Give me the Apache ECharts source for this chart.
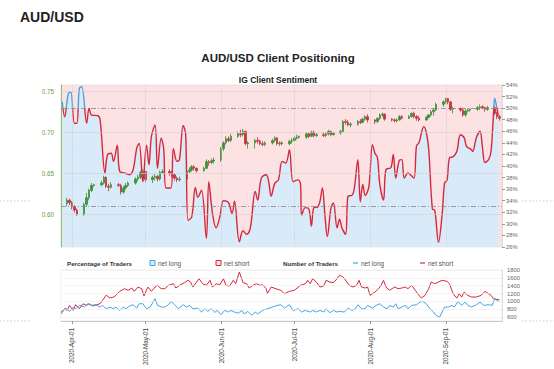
<!DOCTYPE html>
<html><head><meta charset="utf-8">
<script src="https://cdn.jsdelivr.net/npm/echarts@6/dist/echarts.min.js"></script>
<style>html,body{margin:0;padding:0;background:#fff}#c{width:554px;height:369px}</style>
</head><body><div id="c"></div>
<script>
const headerTitle = 'AUD/USD';
const chartTitle = 'AUD/USD Client Positioning';
const subTitle = 'IG Client Sentiment';
const monthTicks = ['2020-04-01','2020-05-01','2020-06-01','2020-07-01','2020-08-01','2020-09-01'];
const monthNames = ['Jan','Feb','Mar','Apr','May','Jun','Jul','Aug','Sep','Oct','Nov','Dec'];
const priceTicks = [0.60, 0.65, 0.70, 0.75];
const pctRefLines = [50, 33];
const countTicks = [600, 800, 1000, 1200, 1400, 1600, 1800];
const legendPct = ['Percentage of Traders', 'net long', 'net short'];
const legendNum = ['Number of Traders', 'net long', 'net short'];

// % of traders net long (IG client sentiment)
const sentimentNetLong = [
['2020-03-28',51.1],['2020-03-29',48.5],['2020-03-30 12:00',52.5],['2020-03-31 12:00',52.8],
['2020-04-02',47.4],['2020-04-03',47.4],['2020-04-04',53.4],['2020-04-05',53.7],['2020-04-07',47.4],
['2020-04-08',50.0],['2020-04-09',48.8],['2020-04-11 12:00',48.7],['2020-04-12 12:00',48.0],
['2020-04-14 12:00',38.8],['2020-04-15 12:00',41.9],['2020-04-17',42.2],['2020-04-18',40.8],
['2020-04-19 12:00',43.6],['2020-04-20 12:00',39.1],['2020-04-22 12:00',38.8],['2020-04-24 12:00',38.5],
['2020-04-26',39.3],['2020-04-27 12:00',43.1],['2020-04-28 12:00',43.9],['2020-04-30',37.3],
['2020-05-01 12:00',43.6],['2020-05-02 12:00',40.2],['2020-05-03 12:00',45.1],['2020-05-05',47.1],
['2020-05-06',39.6],['2020-05-07 12:00',44.8],['2020-05-08 12:00',43.1],['2020-05-09 12:00',36.2],
['2020-05-11 12:00',36.2],['2020-05-12 12:00',43.0],['2020-05-14',40.8],['2020-05-15',41.1],
['2020-05-16 12:00',47.0],['2020-05-17 12:00',45.6],['2020-05-18 12:00',30.6],['2020-05-20',31.2],
['2020-05-21 12:00',36.3],['2020-05-22 12:00',34.6],['2020-05-24',35.8],['2020-05-26',27.5],
['2020-05-27',37.3],['2020-05-28 12:00',31.8],['2020-05-30',29.3],['2020-05-31 12:00',31.2],
['2020-06-02',34.0],['2020-06-04',33.7],['2020-06-05 12:00',31.8],['2020-06-06 12:00',33.9],
['2020-06-08 12:00',26.9],['2020-06-10',28.8],['2020-06-11 12:00',28.2],['2020-06-13',29.3],
['2020-06-15',35.6],['2020-06-16',34.1],['2020-06-17 12:00',37.9],['2020-06-19 12:00',38.5],
['2020-06-20 12:00',37.3],['2020-06-21 12:00',34.8],['2020-06-23',37.0],['2020-06-24 12:00',37.6],
['2020-06-26',40.8],['2020-06-27 12:00',40.5],['2020-06-29',42.8],['2020-06-30 12:00',37.3],
['2020-07-02 12:00',37.6],['2020-07-03 12:00',37.0],['2020-07-04',31.5],['2020-07-05 12:00',32.8],
['2020-07-07',32.5],['2020-07-08',29.6],['2020-07-09',32.8],['2020-07-10 12:00',32.9],
['2020-07-11 12:00',33.9],['2020-07-12 12:00',36.2],['2020-07-13 12:00',31.6],['2020-07-14 12:00',27.8],
['2020-07-16',32.8],['2020-07-17',33.6],['2020-07-18 12:00',29.3],['2020-07-19 12:00',30.8],
['2020-07-20 12:00',29.3],['2020-07-22',28.2],['2020-07-23',34.8],['2020-07-24 12:00',34.9],
['2020-07-25 12:00',36.0],['2020-07-27',41.1],['2020-07-28',33.8],['2020-07-29',36.8],['2020-07-30',34.9],
['2020-07-31 12:00',36.4],['2020-08-02',43.7],['2020-08-03',42.2],['2020-08-04',41.5],['2020-08-05',36.8],
['2020-08-06 12:00',34.1],['2020-08-07 12:00',39.4],['2020-08-09 12:00',39.7],['2020-08-10 12:00',42.0],
['2020-08-11 12:00',37.9],['2020-08-13',41.0],['2020-08-14',41.1],['2020-08-15',37.9],
['2020-08-16 12:00',38.8],['2020-08-17 12:00',38.5],['2020-08-19',37.9],['2020-08-20',43.5],
['2020-08-21',44.0],['2020-08-23',46.8],['2020-08-24',45.8],['2020-08-25',42.9],['2020-08-26 12:00',32.6],
['2020-08-27 12:00',32.3],['2020-08-29',26.8],['2020-08-30 12:00',31.6],['2020-08-31 12:00',37.1],
['2020-09-01 12:00',37.5],['2020-09-02 12:00',41.4],['2020-09-04',41.6],['2020-09-05 12:00',42.5],
['2020-09-07',45.4],['2020-09-08 12:00',44.9],['2020-09-09 12:00',43.4],['2020-09-11 12:00',42.8],
['2020-09-12',42.5],['2020-09-13 12:00',44.9],['2020-09-15',46.0],['2020-09-16',43.2],['2020-09-17',40.6],
['2020-09-18 12:00',41.1],['2020-09-19 12:00',42.5],['2020-09-20 12:00',48.8],['2020-09-21',51.7],
['2020-09-22',49.8],['2020-09-22 12:00',48.7]
];

// AUD/USD daily candles: [date, open, close, low, high]
const priceOHLC = [
['2020-03-30',.613,.617,.610,.620],['2020-03-31',.617,.614,.611,.619],['2020-04-01',.614,.609,.606,.616],
['2020-04-02',.609,.605,.602,.611],['2020-04-03',.605,.600,.598,.607],['2020-04-06',.600,.612,.598,.614],
['2020-04-07',.612,.620,.609,.626],['2020-04-08',.620,.629,.617,.631],['2020-04-09',.629,.635,.627,.638],
['2020-04-10',.635,.636,.633,.637],['2020-04-13',.636,.638,.634,.641],['2020-04-14',.638,.645,.636,.647],
['2020-04-15',.645,.634,.632,.646],['2020-04-16',.634,.633,.628,.637],['2020-04-17',.633,.636,.631,.639],
['2020-04-20',.636,.635,.633,.638],['2020-04-21',.635,.627,.624,.637],['2020-04-22',.627,.632,.625,.634],
['2020-04-23',.632,.635,.630,.638],['2020-04-24',.635,.638,.633,.640],['2020-04-27',.638,.643,.636,.645],
['2020-04-28',.643,.645,.640,.648],['2020-04-29',.645,.651,.643,.653],['2020-04-30',.651,.652,.645,.655],
['2020-05-01',.652,.642,.639,.653],['2020-05-04',.642,.645,.638,.647],['2020-05-05',.645,.646,.641,.649],
['2020-05-06',.646,.643,.640,.648],['2020-05-07',.643,.651,.641,.653],['2020-05-08',.651,.652,.649,.655],
['2020-05-11',.652,.650,.647,.655],['2020-05-12',.650,.648,.645,.653],['2020-05-13',.648,.644,.641,.650],
['2020-05-14',.644,.642,.639,.646],['2020-05-15',.642,.643,.640,.646],['2020-05-18',.643,.652,.641,.654],
['2020-05-19',.652,.654,.650,.657],['2020-05-20',.654,.658,.652,.660],['2020-05-21',.658,.656,.653,.660],
['2020-05-22',.656,.653,.651,.657],['2020-05-25',.653,.656,.652,.658],['2020-05-26',.656,.664,.655,.667],
['2020-05-27',.664,.663,.659,.666],['2020-05-28',.663,.665,.661,.668],['2020-05-29',.665,.666,.662,.669],
['2020-06-01',.666,.680,.664,.682],['2020-06-02',.680,.687,.677,.689],['2020-06-03',.687,.692,.685,.695],
['2020-06-04',.692,.690,.688,.695],['2020-06-05',.690,.695,.688,.698],['2020-06-08',.695,.698,.693,.701],
['2020-06-09',.698,.697,.694,.703],['2020-06-10',.697,.701,.695,.704],['2020-06-11',.701,.686,.684,.702],
['2020-06-12',.686,.687,.680,.689],['2020-06-15',.687,.690,.680,.692],['2020-06-16',.690,.689,.686,.694],
['2020-06-17',.689,.686,.684,.691],['2020-06-18',.686,.685,.683,.689],['2020-06-19',.685,.687,.683,.689],
['2020-06-22',.687,.690,.685,.692],['2020-06-23',.690,.693,.688,.695],['2020-06-24',.693,.686,.684,.694],
['2020-06-25',.686,.687,.683,.689],['2020-06-26',.687,.686,.684,.689],['2020-06-29',.686,.689,.684,.691],
['2020-06-30',.689,.690,.686,.693],['2020-07-01',.690,.693,.689,.695],['2020-07-02',.693,.694,.691,.697],
['2020-07-03',.694,.695,.692,.696],['2020-07-06',.694,.698,.692,.700],['2020-07-07',.698,.695,.693,.700],
['2020-07-08',.695,.700,.694,.702],['2020-07-09',.700,.696,.694,.702],['2020-07-10',.696,.697,.694,.699],
['2020-07-13',.697,.696,.694,.700],['2020-07-14',.696,.698,.694,.700],['2020-07-15',.698,.701,.696,.703],
['2020-07-16',.701,.697,.695,.702],['2020-07-17',.697,.699,.696,.700],['2020-07-20',.699,.701,.697,.703],
['2020-07-21',.701,.713,.700,.715],['2020-07-22',.713,.712,.709,.716],['2020-07-23',.712,.709,.707,.715],
['2020-07-24',.709,.710,.706,.712],['2020-07-27',.710,.713,.708,.715],['2020-07-28',.713,.712,.710,.716],
['2020-07-29',.712,.716,.711,.718],['2020-07-30',.716,.719,.714,.721],['2020-07-31',.719,.715,.712,.722],
['2020-08-03',.715,.713,.710,.716],['2020-08-04',.713,.717,.711,.718],['2020-08-05',.717,.721,.715,.723],
['2020-08-06',.721,.722,.719,.724],['2020-08-07',.722,.716,.714,.723],['2020-08-10',.716,.715,.713,.717],
['2020-08-11',.715,.714,.712,.717],['2020-08-12',.714,.715,.712,.717],['2020-08-13',.715,.719,.714,.721],
['2020-08-14',.719,.717,.716,.721],['2020-08-17',.717,.719,.716,.721],['2020-08-18',.719,.723,.718,.724],
['2020-08-19',.723,.719,.717,.725],['2020-08-20',.719,.717,.714,.721],['2020-08-21',.717,.715,.713,.720],
['2020-08-24',.715,.718,.714,.720],['2020-08-25',.718,.721,.717,.722],['2020-08-26',.721,.725,.719,.727],
['2020-08-27',.725,.727,.720,.729],['2020-08-28',.727,.734,.726,.736],['2020-08-31',.734,.737,.731,.739],
['2020-09-01',.737,.741,.735,.742],['2020-09-02',.741,.737,.734,.742],['2020-09-03',.737,.728,.726,.738],
['2020-09-04',.728,.729,.723,.731],['2020-09-07',.729,.727,.725,.730],['2020-09-08',.727,.721,.719,.730],
['2020-09-09',.721,.726,.719,.728],['2020-09-10',.726,.727,.724,.729],['2020-09-11',.727,.728,.725,.729],
['2020-09-14',.728,.730,.726,.732],['2020-09-15',.730,.731,.727,.734],['2020-09-16',.731,.730,.728,.733],
['2020-09-17',.730,.728,.725,.731],['2020-09-18',.728,.730,.726,.732],['2020-09-21',.730,.723,.721,.732],
['2020-09-22',.723,.719,.716,.725],['2020-09-23',.719,.717,.714,.721]
];

// Number of traders net short
const tradersNetShort = [
['2020-03-27 12:00',720],['2020-03-29',812],['2020-03-30',770],['2020-03-31',898],['2020-04-01 12:00',770],
['2020-04-02 12:00',915],['2020-04-04',812],['2020-04-05 12:00',940],['2020-04-07',898],['2020-04-08',940],
['2020-04-09 12:00',881],['2020-04-11',915],['2020-04-12 12:00',940],['2020-04-13 12:00',1026],
['2020-04-15',1160],['2020-04-16 12:00',1085],['2020-04-18',1111],['2020-04-19',1154],['2020-04-20 12:00',1256],
['2020-04-22 12:00',1323],['2020-04-24',1282],['2020-04-25 12:00',1340],['2020-04-26 12:00',1256],
['2020-04-28',1366],['2020-04-29 12:00',1323],['2020-04-30 12:00',1140],['2020-05-02',1366],
['2020-05-03 12:00',1256],['2020-05-05',1366],['2020-05-06',1409],['2020-05-07 12:00',1323],['2020-05-09',1323],
['2020-05-10 12:00',1409],['2020-05-12 12:00',1450],['2020-05-13 12:00',1340],['2020-05-15',1409],
['2020-05-17',1476],['2020-05-18 12:00',1537],['2020-05-19 12:00',1494],['2020-05-20 12:00',1366],
['2020-05-22',1494],['2020-05-23',1578],['2020-05-24 12:00',1450],['2020-05-26',1409],['2020-05-27 12:00',1537],
['2020-05-28 12:00',1366],['2020-05-30',1450],['2020-05-31 12:00',1425],['2020-06-02',1578],['2020-06-03',1409],
['2020-06-04 12:00',1392],['2020-06-06',1537],['2020-06-07',1450],['2020-06-08 12:00',1749],['2020-06-10',1476],
['2020-06-11 12:00',1450],['2020-06-12 12:00',1340],['2020-06-14',1409],['2020-06-15 12:00',1450],
['2020-06-17',1409],['2020-06-18',1425],['2020-06-19 12:00',1323],['2020-06-20',1200],['2020-06-21 12:00',1366],
['2020-06-23 12:00',1323],['2020-06-25 12:00',1282],['2020-06-27',1195],['2020-06-29',1256],['2020-07-01',1282],
['2020-07-03 12:00',1409],['2020-07-05 12:00',1450],['2020-07-06 12:00',1537],['2020-07-07 12:00',1450],
['2020-07-08 12:00',1578],['2020-07-10',1494],['2020-07-11 12:00',1366],['2020-07-13',1392],['2020-07-14',1537],
['2020-07-15 12:00',1494],['2020-07-17',1476],['2020-07-18 12:00',1578],['2020-07-19 12:00',1664],
['2020-07-21',1621],['2020-07-22 12:00',1494],['2020-07-23 12:00',1409],['2020-07-25',1366],
['2020-07-26 12:00',1409],['2020-07-27 12:00',1537],['2020-07-28 12:00',1366],['2020-07-30',1340],
['2020-07-31',1366],['2020-08-01',1154],['2020-08-03',1238],['2020-08-04 12:00',1323],['2020-08-05 12:00',1409],
['2020-08-06 12:00',1537],['2020-08-07 12:00',1366],['2020-08-09',1282],['2020-08-11',1366],
['2020-08-12 12:00',1323],['2020-08-14',1340],['2020-08-15 12:00',1366],['2020-08-16 12:00',1323],
['2020-08-18',1409],['2020-08-19 12:00',1282],['2020-08-20 12:00',1195],['2020-08-22',1085],
['2020-08-23 12:00',1154],['2020-08-25',1323],['2020-08-26',1494],['2020-08-27 12:00',1450],['2020-08-29',1494],
['2020-08-30 12:00',1537],['2020-09-01 12:00',1511],['2020-09-02 12:00',1450],['2020-09-04',1195],
['2020-09-05 12:00',1085],['2020-09-06 12:00',1195],['2020-09-07 12:00',1111],['2020-09-08 12:00',1238],
['2020-09-10',1154],['2020-09-11 12:00',1111],['2020-09-13 12:00',1111],['2020-09-15 12:00',1154],
['2020-09-17',1256],['2020-09-18 12:00',1195],['2020-09-19 12:00',1154],['2020-09-20 12:00',1068],
['2020-09-22',1051],['2020-09-23',1040]
];

// Number of traders net long
const tradersNetLong = [
['2020-03-27 12:00',680],['2020-03-29 12:00',830],['2020-03-31',745],['2020-04-01 12:00',855],
['2020-04-02 12:00',812],['2020-04-04',898],['2020-04-06',855],['2020-04-07 12:00',940],['2020-04-09',898],
['2020-04-10 12:00',915],['2020-04-12 12:00',855],['2020-04-13 12:00',898],['2020-04-15',812],
['2020-04-16 12:00',855],['2020-04-18',812],['2020-04-19',855],['2020-04-20 12:00',770],['2020-04-22',855],
['2020-04-23',812],['2020-04-24 12:00',881],['2020-04-26',915],['2020-04-27 12:00',830],['2020-04-28 12:00',940],
['2020-04-30',940],['2020-05-01 12:00',812],['2020-05-03',855],['2020-05-05',1068],['2020-05-06',898],
['2020-05-07 12:00',855],['2020-05-09',855],['2020-05-10 12:00',915],['2020-05-11 12:00',1000],['2020-05-13',915],
['2020-05-14 12:00',812],['2020-05-16 12:00',915],['2020-05-18',855],['2020-05-19',898],['2020-05-20 12:00',812],
['2020-05-22 12:00',830],['2020-05-24',728],['2020-05-25 12:00',812],['2020-05-26 12:00',745],['2020-05-28',812],
['2020-05-29 12:00',720],['2020-05-30 12:00',770],['2020-06-01',660],['2020-06-02 12:00',770],['2020-06-04',728],
['2020-06-05',770],['2020-06-06 12:00',728],['2020-06-08',700],['2020-06-09 12:00',770],['2020-06-10 12:00',680],
['2020-06-12',745],['2020-06-13 12:00',650],['2020-06-15',728],['2020-06-16',680],['2020-06-18',770],
['2020-06-20',812],['2020-06-22',855],['2020-06-24',898],['2020-06-25 12:00',915],['2020-06-27',830],
['2020-06-29',915],['2020-06-30 12:00',770],['2020-07-02 12:00',812],['2020-07-04',728],['2020-07-05 12:00',770],
['2020-07-07 12:00',728],['2020-07-08 12:00',770],['2020-07-10',728],['2020-07-11 12:00',770],['2020-07-13',728],
['2020-07-14',812],['2020-07-15 12:00',711],['2020-07-17',770],['2020-07-18 12:00',728],['2020-07-19 12:00',745],
['2020-07-21 12:00',728],['2020-07-23',830],['2020-07-24 12:00',770],['2020-07-26',812],['2020-07-27',915],
['2020-07-28 12:00',812],['2020-07-30',812],['2020-07-31',898],['2020-08-02',830],['2020-08-03 12:00',898],
['2020-08-05',940],['2020-08-06 12:00',855],['2020-08-08',812],['2020-08-09',898],['2020-08-10 12:00',855],
['2020-08-11 12:00',940],['2020-08-12 12:00',812],['2020-08-14',855],['2020-08-15 12:00',898],
['2020-08-16 12:00',812],['2020-08-18',898],['2020-08-20',915],['2020-08-21 12:00',983],['2020-08-22 12:00',1000],
['2020-08-24',940],['2020-08-25 12:00',812],['2020-08-27',728],['2020-08-28',643],['2020-08-29 12:00',600],
['2020-08-30 12:00',728],['2020-08-31 12:00',855],['2020-09-02',855],['2020-09-03 12:00',898],
['2020-09-04 12:00',855],['2020-09-06',1000],['2020-09-07 12:00',898],['2020-09-09',983],['2020-09-10',898],
['2020-09-11 12:00',855],['2020-09-13 12:00',915],['2020-09-15',983],['2020-09-16 12:00',898],
['2020-09-18 12:00',915],['2020-09-20',898],['2020-09-21',1068],['2020-09-22 12:00',1000],['2020-09-23',983]
];

function toTime(s) {
  const parts = s.split(' ');
  const ymd = parts[0].split('-').map(Number);
  let h = 0, mi = 0;
  if (parts[1]) { const hm = parts[1].split(':').map(Number); h = hm[0]; mi = hm[1]; }
  return new Date(ymd[0], ymd[1] - 1, ymd[2], h, mi).getTime();
}
const FONT = '"Liberation Sans", Arial, Helvetica, sans-serif';
const xMin = toTime('2020-03-27 12:00');
const xMax = toTime('2020-09-24');
const monthTimes = monthTicks.map(toTime);
const COL_RED = '#d6283c', COL_BLUE = '#46a2e2';
const PINK = '#fce2e3', LIGHTBLUE = '#d9eaf8';

const sentData = sentimentNetLong.map(r => [toTime(r[0]), r[1]]);
const candleData = priceOHLC.map(r => [toTime(r[0]), r[1], r[2], r[3], r[4]]);
const shortData = tradersNetShort.map(r => [toTime(r[0]), r[1]]);
const longData = tradersNetLong.map(r => [toTime(r[0]), r[1]]);

function fmtDate(v) {
  const d = new Date(v);
  const dd = d.getDate();
  return d.getFullYear() + '-' + monthNames[d.getMonth()] + '-' + (dd < 10 ? '0' + dd : dd);
}

const chart = echarts.init(document.getElementById('c'), null, { renderer: 'svg', width: 554, height: 369 });

const baseX = {
  type: 'value', min: xMin, max: xMax, scale: true,
  axisLabel: { show: false }, axisTick: { show: false }, splitLine: { show: false }, axisLine: { show: false }
};

const option = {
  animation: false,
  backgroundColor: '#ffffff',
  textStyle: { fontFamily: FONT },
  grid: [
    { left: 61, top: 85, right: 52, bottom: 122, show: true, backgroundColor: PINK, borderColor: '#d8d8d8', borderWidth: 0.6 },
    { left: 61, top: 270, right: 52, bottom: 48, show: true, backgroundColor: '#ffffff', borderColor: '#e2e2e2', borderWidth: 0.6 }
  ],
  xAxis: [
    Object.assign({ gridIndex: 0 }, baseX),
    Object.assign({}, baseX, {
      gridIndex: 1,
      axisLine: { show: true, lineStyle: { color: '#bbbbbb', width: 0.8 } },
      axisTick: { show: true, customValues: monthTimes, length: 3, lineStyle: { color: '#999' } },
      axisLabel: {
        show: true, customValues: monthTimes, rotate: 90, margin: 7,
        fontSize: 6.3, color: '#444', fontFamily: FONT, formatter: fmtDate
      }
    })
  ],
  yAxis: [
    {
      type: 'value', gridIndex: 0, position: 'left', min: 0.56, max: 0.7576, interval: 0.01,
      axisLine: { show: true, lineStyle: { color: '#8dc26c', width: 1 } },
      axisTick: { show: false }, splitLine: { show: false },
      axisLabel: {
        color: '#5f9e3e', fontSize: 6.3, fontFamily: FONT, margin: 7, showMinLabel: false, showMaxLabel: false,
        formatter: v => priceTicks.some(t => Math.abs(t - v) < 1e-6) ? v.toFixed(2) : ''
      }
    },
    {
      type: 'value', gridIndex: 0, position: 'right', min: 26, max: 54, interval: 2,
      axisLine: { show: true, lineStyle: { color: '#cccccc', width: 0.6 } },
      axisTick: { show: true, length: 3, lineStyle: { color: '#999' } },
      splitLine: { show: false },
      axisLabel: { color: '#666', fontSize: 5.8, fontFamily: FONT, margin: 4, formatter: '{value}%' }
    },
    {
      type: 'value', gridIndex: 1, position: 'right', min: 500, max: 1800, interval: 100,
      axisLine: { show: true, lineStyle: { color: '#cccccc', width: 0.6 } },
      axisTick: { show: false }, splitLine: { show: false },
      axisLabel: {
        color: '#666', fontSize: 5.8, fontFamily: FONT, margin: 5, showMinLabel: false,
        formatter: v => countTicks.indexOf(Math.round(v)) >= 0 ? String(Math.round(v)) : ''
      }
    }
  ],
  visualMap: {
    type: 'piecewise', show: false, seriesIndex: 2, dimension: 1,
    pieces: [{ gt: 50, lte: 100, color: COL_BLUE }, { gte: 0, lte: 50, color: COL_RED }]
  },
  series: [
    {
      name: 'net long area', type: 'line', xAxisIndex: 0, yAxisIndex: 1, data: sentData,
      smooth: 0.35, showSymbol: false, silent: true, z: 1,
      lineStyle: { width: 0 }, areaStyle: { color: LIGHTBLUE, opacity: 1, origin: 'start' },
      markLine: {
        silent: true, symbol: 'none', label: { show: false }, animation: false,
        data: pctRefLines.map(v => ({ yAxis: v, lineStyle: { color: '#888', width: 0.8, type: [5, 2, 1, 2] } }))
          .concat(monthTimes.map(t => ({ xAxis: t, lineStyle: { color: '#c9c9c9', width: 0.7, type: 'dotted' } })))
      }
    },
    {
      name: 'AUD/USD', type: 'candlestick', xAxisIndex: 0, yAxisIndex: 0, data: candleData,
      barWidth: 2, z: 3,
      itemStyle: { color: '#3f8f3a', color0: '#c0353f', borderColor: '#3f8f3a', borderColor0: '#c0353f', borderWidth: 0.8 },
      markLine: {
        silent: true, symbol: 'none', label: { show: false }, animation: false,
        data: priceTicks.map(v => ({ yAxis: v, lineStyle: { color: '#d2d2d2', width: 0.6, type: 'solid' } }))
      }
    },
    {
      name: 'net long %', type: 'line', xAxisIndex: 0, yAxisIndex: 1, data: sentData,
      smooth: 0.35, showSymbol: false, z: 4, lineStyle: { width: 1.4 }
    },
    {
      name: 'net short', type: 'line', xAxisIndex: 1, yAxisIndex: 2, data: shortData,
      showSymbol: false, z: 3, lineStyle: { width: 1, color: COL_RED }, itemStyle: { color: COL_RED }
    },
    {
      name: 'net long', type: 'line', xAxisIndex: 1, yAxisIndex: 2, data: longData,
      showSymbol: false, z: 3, lineStyle: { width: 1, color: COL_BLUE }, itemStyle: { color: COL_BLUE },
      markLine: {
        silent: true, symbol: 'none', label: { show: false }, animation: false,
        data: countTicks.map(v => ({ yAxis: v, lineStyle: { color: '#ececec', width: 0.6, type: 'solid' } }))
      }
    }
  ],
  graphic: [
    { type: 'text', left: 20, top: 10, style: { text: headerTitle, fontSize: 14, fontWeight: 'bold', fontFamily: FONT, fill: '#222' } },
    { type: 'text', x: 278, y: 58, style: { text: chartTitle, fontSize: 11.5, fontWeight: 'bold', fontFamily: FONT, fill: '#222', textAlign: 'center', textVerticalAlign: 'middle', align: 'center', verticalAlign: 'middle' } },
    { type: 'text', x: 278, y: 80, style: { text: subTitle, fontSize: 8.5, fontWeight: 'bold', fontFamily: FONT, fill: '#222', textAlign: 'center', textVerticalAlign: 'middle', align: 'center', verticalAlign: 'middle' } },
    { type: 'line', shape: { x1: 0, y1: 201, x2: 30, y2: 201 }, style: { stroke: '#bdbdbd', lineWidth: 0.8, lineDash: [1.5, 2] } },
    { type: 'line', shape: { x1: 522, y1: 201, x2: 554, y2: 201 }, style: { stroke: '#bdbdbd', lineWidth: 0.8, lineDash: [1.5, 2] } },
    { type: 'line', shape: { x1: 0, y1: 321, x2: 30, y2: 321 }, style: { stroke: '#bdbdbd', lineWidth: 0.8, lineDash: [1.5, 2] } },
    { type: 'line', shape: { x1: 522, y1: 321, x2: 554, y2: 321 }, style: { stroke: '#bdbdbd', lineWidth: 0.8, lineDash: [1.5, 2] } },
    { type: 'text', x: 67, y: 263, style: { text: legendPct[0], fontSize: 6.2, fontWeight: 'bold', fontFamily: FONT, fill: '#333', textVerticalAlign: 'middle', verticalAlign: 'middle' } },
    { type: 'rect', shape: { x: 150, y: 260.5, width: 5, height: 5 }, style: { fill: LIGHTBLUE, stroke: COL_BLUE, lineWidth: 1 } },
    { type: 'text', x: 158, y: 263, style: { text: legendPct[1], fontSize: 6.5, fontFamily: FONT, fill: '#555', textVerticalAlign: 'middle', verticalAlign: 'middle' } },
    { type: 'rect', shape: { x: 216, y: 260.5, width: 5, height: 5 }, style: { fill: PINK, stroke: COL_RED, lineWidth: 1 } },
    { type: 'text', x: 224, y: 263, style: { text: legendPct[2], fontSize: 6.5, fontFamily: FONT, fill: '#555', textVerticalAlign: 'middle', verticalAlign: 'middle' } },
    { type: 'text', x: 283, y: 263, style: { text: legendNum[0], fontSize: 6.2, fontWeight: 'bold', fontFamily: FONT, fill: '#333', textVerticalAlign: 'middle', verticalAlign: 'middle' } },
    { type: 'line', shape: { x1: 353, y1: 263, x2: 358, y2: 263 }, style: { stroke: COL_BLUE, lineWidth: 1.2 } },
    { type: 'text', x: 361, y: 263, style: { text: legendNum[1], fontSize: 6.5, fontFamily: FONT, fill: '#555', textVerticalAlign: 'middle', verticalAlign: 'middle' } },
    { type: 'line', shape: { x1: 420, y1: 263, x2: 425, y2: 263 }, style: { stroke: COL_RED, lineWidth: 1.2 } },
    { type: 'text', x: 428, y: 263, style: { text: legendNum[2], fontSize: 6.5, fontFamily: FONT, fill: '#555', textVerticalAlign: 'middle', verticalAlign: 'middle' } }
  ]
};
chart.setOption(option);
</script>
</body></html>
